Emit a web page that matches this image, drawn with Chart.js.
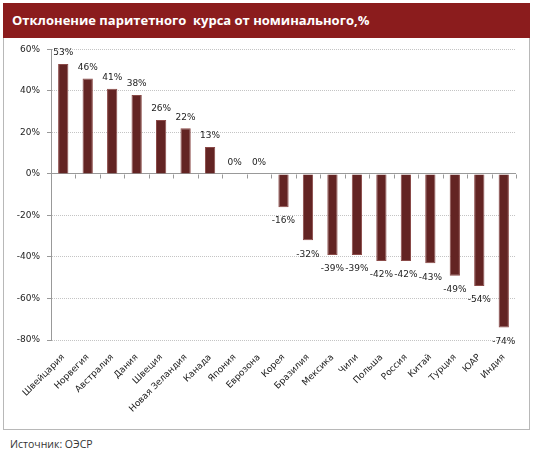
<!DOCTYPE html>
<html lang="ru">
<head>
  <meta charset="UTF-8" />
  <title>Отклонение паритетного курса от номинального</title>
  <style>
    body {
      margin: 0;
      background: #fff;
      font-family: "DejaVu Sans", sans-serif;
    }
    .page {
      position: relative;
      width: 534px;
      height: 459px;
    }
    .title {
      position: absolute;
      left: 3px;
      top: 3px;
      width: 527px;
      height: 35px;
      background: #8b1c1d;
      color: #fff;
      font-family: "Open Sans", sans-serif;
      font-weight: bold;
      font-size: 13px;
      line-height: 35px;
      box-sizing: border-box;
      padding-left: 9px;
      white-space: pre;
    }
    .box {
      position: absolute;
      left: 3px;
      top: 38px;
      width: 527px;
      height: 392px;
      border: 1px solid #b8b8b8;
      border-top: none;
      box-sizing: border-box;
    }
    #chartWrap {
      position: absolute;
      left: 4px;
      top: 37px;
      width: 525px;
      height: 392px;
    }
    .source {
      position: absolute;
      left: 10px;
      top: 437px;
      font-family: "Open Sans", sans-serif;
      font-size: 10.5px;
      color: #333;
    }
  </style>
  <script src="https://cdn.jsdelivr.net/npm/chart.js"></script>
</head>
<body>
  <div class="page">
    <div class="title">Отклонение паритетного  курса от номинального,%</div>
    <div class="box"></div>
    <div id="chartWrap"><canvas id="chart"></canvas></div>
    <div class="source">Источник: ОЭСР</div>
  </div>

  <script>
    const countries = ['Швейцария', 'Норвегия', 'Австралия', 'Дания', 'Швеция', 'Новая Зеландия', 'Канада',
      'Япония', 'Еврозона', 'Корея', 'Бразилия', 'Мексика', 'Чили', 'Польша', 'Россия', 'Китай',
      'Турция', 'ЮАР', 'Индия'];
    const deviation = [53, 46, 41, 38, 26, 22, 13, 0, 0, -16, -32, -39, -39, -42, -42, -43, -49, -54, -74];
    const yTicks = [60, 40, 20, 0, -20, -40, -60, -80];

    // value labels above / below each bar
    const valueLabels = {
      id: 'valueLabels',
      afterDatasetsDraw(chart) {
        const ctx = chart.ctx;
        const meta = chart.getDatasetMeta(0);
        ctx.save();
        ctx.font = '9px "DejaVu Sans"';
        ctx.fillStyle = '#222';
        ctx.textAlign = 'center';
        ctx.textBaseline = 'middle';
        meta.data.forEach((bar, i) => {
          const v = deviation[i];
          const y = v >= 0 ? bar.y - 11 : bar.y + 14;
          ctx.fillText(v + '%', bar.x, y);
        });
        ctx.restore();
      }
    };

    // small tick marks along the zero line
    const zeroTicks = {
      id: 'zeroTicks',
      beforeDatasetsDraw(chart) {
        const ctx = chart.ctx;
        const x = chart.scales.x;
        const y0 = Math.round(chart.scales.y.getPixelForValue(0)) + 0.5;
        const step = x.getPixelForValue(1) - x.getPixelForValue(0);
        ctx.save();
        ctx.strokeStyle = '#999';
        ctx.lineWidth = 1;
        ctx.beginPath();
        for (let i = 0; i <= countries.length; i++) {
          const px = Math.round(x.getPixelForValue(0) - step / 2 + i * step) + 0.5;
          ctx.moveTo(px, y0);
          ctx.lineTo(px, y0 + 4);
        }
        ctx.stroke();
        ctx.restore();
      }
    };

    new Chart(document.getElementById('chart'), {
      type: 'bar',
      data: {
        labels: countries,
        datasets: [{
          data: deviation,
          backgroundColor: '#632423',
          borderColor: '#8a4a48',
          borderWidth: 1,
          barPercentage: 0.42,
          categoryPercentage: 1
        }]
      },
      options: {
        responsive: true,
        maintainAspectRatio: false,
        animation: false,
        layout: { padding: { top: 11, right: 13, left: 0, bottom: 0 } },
        plugins: {
          legend: { display: false },
          tooltip: { enabled: false }
        },
        scales: {
          x: {
            grid: { display: false },
            border: { display: false },
            ticks: {
              autoSkip: false,
              minRotation: 45,
              maxRotation: 45,
              padding: 4,
              color: '#222',
              font: { family: 'DejaVu Sans', size: 9 }
            },
            afterFit(scale) { scale.height = 89; }
          },
          y: {
            min: -80,
            max: 60,
            afterBuildTicks(scale) {
              scale.ticks = yTicks.map(v => ({ value: v }));
            },
            grid: {
              color: c => (c.tick && c.tick.value === 0) ? '#999' : '#c4c4c4',
              tickColor: '#999',
              tickLength: 4
            },
            border: {
              color: '#999',
              dash: c => (c.tick && c.tick.value === 0) ? [] : [1, 1]
            },
            ticks: {
              padding: 7,
              color: '#222',
              font: { family: 'DejaVu Sans', size: 9 },
              callback: v => v + '%'
            },
            afterFit(scale) { scale.width = 47; }
          }
        }
      },
      plugins: [valueLabels, zeroTicks]
    });
  </script>
</body>
</html>
